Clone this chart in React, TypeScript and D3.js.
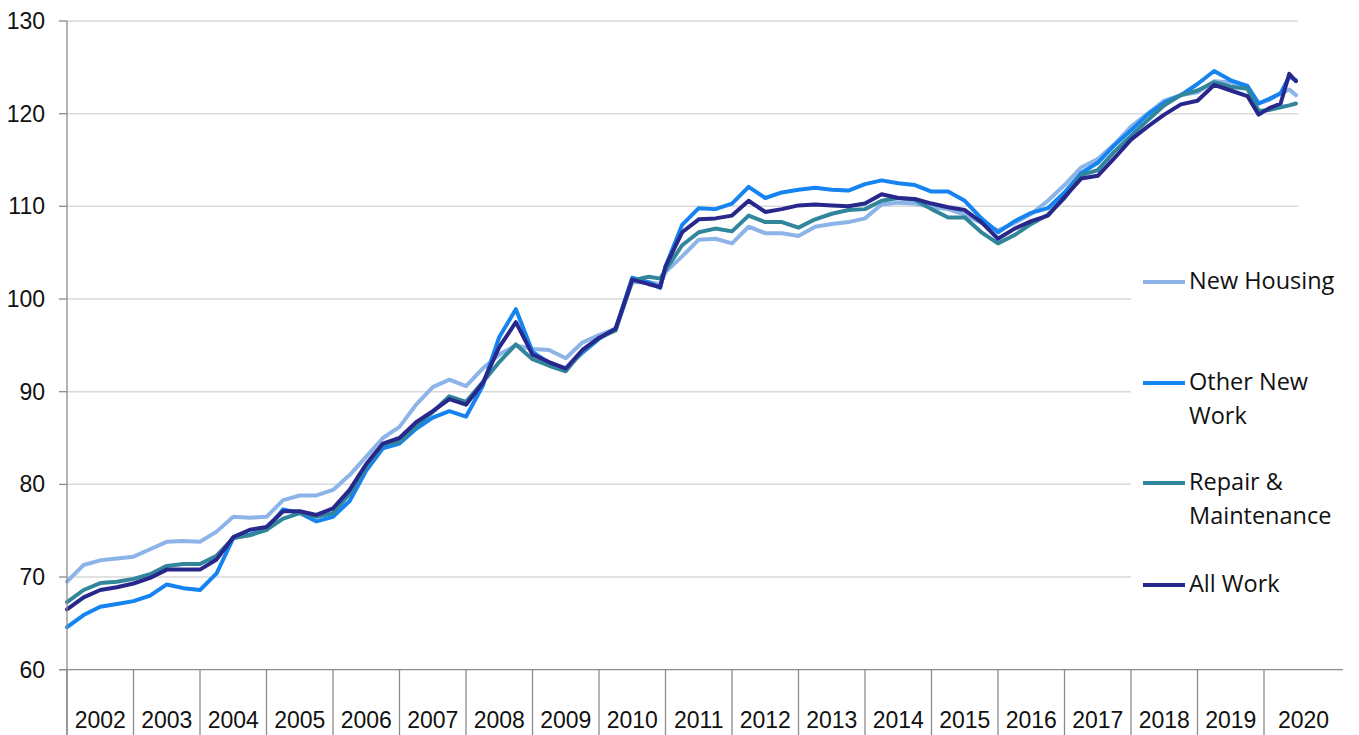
import React from "react";
import * as d3 from "d3";

// ---- data ----
const times = [
  2002.0, 2002.25, 2002.5, 2002.75,
  2003.0, 2003.25, 2003.5, 2003.75,
  2004.0, 2004.25, 2004.5, 2004.75,
  2005.0, 2005.25, 2005.5, 2005.75,
  2006.0, 2006.25, 2006.5, 2006.75,
  2007.0, 2007.25, 2007.5, 2007.75,
  2008.0, 2008.25, 2008.5, 2008.75,
  2009.0, 2009.25, 2009.5, 2009.75,
  2010.0, 2010.25, 2010.5, 2010.75, 2010.92,
  2011.0, 2011.25, 2011.5, 2011.75,
  2012.0, 2012.25, 2012.5, 2012.75,
  2013.0, 2013.25, 2013.5, 2013.75,
  2014.0, 2014.25, 2014.5, 2014.75,
  2015.0, 2015.25, 2015.5, 2015.75,
  2016.0, 2016.25, 2016.5, 2016.75,
  2017.0, 2017.25, 2017.5, 2017.75,
  2018.0, 2018.25, 2018.5, 2018.75,
  2019.0, 2019.25, 2019.5, 2019.75,
  2019.92, 2020.08, 2020.25, 2020.38, 2020.48,
];

const newHousing = [
  69.5, 71.3, 71.8, 72.0,
  72.2, 73.0, 73.8, 73.9,
  73.8, 74.9, 76.5, 76.4,
  76.5, 78.3, 78.8, 78.8,
  79.4, 81.0, 83.0, 85.0,
  86.2, 88.6, 90.5, 91.3,
  90.6, 92.5, 94.0, 95.0,
  94.6, 94.5, 93.6, 95.3,
  96.1, 96.8, 101.8, 101.8, 101.6,
  102.9, 104.6, 106.4, 106.5,
  106.0, 107.8, 107.1, 107.1,
  106.8, 107.8, 108.1, 108.3,
  108.7, 110.2, 110.4, 110.3,
  109.9, 109.7, 109.1, 108.2,
  107.4, 108.2, 109.2, 110.6,
  112.3, 114.2, 115.1, 116.7,
  118.6, 120.0, 121.4, 122.0,
  122.3, 123.5, 123.4, 122.8,
  121.1, 121.5, 122.2, 122.6, 122.0,
];

const otherNewWork = [
  64.6, 65.9, 66.8, 67.1,
  67.4, 68.0, 69.2, 68.8,
  68.6, 70.4, 74.2, 74.6,
  75.1, 77.3, 76.9, 76.0,
  76.5, 78.2, 81.5, 83.9,
  84.4, 86.0, 87.2, 87.9,
  87.3, 90.6, 95.9, 98.9,
  94.3, 93.1, 92.5, 94.2,
  95.7, 96.8, 102.3, 101.8, 101.2,
  103.5, 108.0, 109.8, 109.7,
  110.3, 112.1, 110.9, 111.5,
  111.8, 112.0, 111.8, 111.7,
  112.4, 112.8, 112.5, 112.3,
  111.6, 111.6, 110.6, 108.7,
  107.2, 108.4, 109.3, 109.8,
  111.5, 113.6, 114.7, 116.6,
  118.2, 119.9, 121.2, 122.0,
  123.2, 124.6, 123.6, 123.0,
  121.1, 121.6, 122.2, 124.0, 123.6,
];

const repairMaintenance = [
  67.3, 68.6, 69.35, 69.5,
  69.8, 70.3, 71.2, 71.4,
  71.4, 72.3, 74.2, 74.5,
  75.1, 76.3, 76.9, 76.5,
  76.9, 79.0, 81.9, 84.3,
  84.6, 86.3, 87.8, 89.5,
  88.9, 91.0, 93.2, 95.1,
  93.5, 92.8, 92.2, 94.4,
  95.8, 96.6, 102.0, 102.4, 102.2,
  103.1, 105.8, 107.2, 107.6,
  107.3, 109.0, 108.3, 108.3,
  107.7, 108.6, 109.2, 109.6,
  109.7, 110.6, 110.9, 110.7,
  109.7, 108.8, 108.8, 107.2,
  106.0, 106.9, 108.1, 109.1,
  110.9, 113.4, 113.9, 115.9,
  117.6, 119.3, 120.9, 122.0,
  122.5, 123.4, 122.9, 122.7,
  120.3, 120.4, 120.7, 120.9, 121.1,
];

const allWork = [
  66.5, 67.8, 68.6, 68.9,
  69.3, 69.9, 70.8, 70.8,
  70.8, 71.9, 74.3, 75.1,
  75.4, 77.1, 77.1, 76.7,
  77.4, 79.4, 82.2, 84.4,
  85.0, 86.7, 87.9, 89.2,
  88.6, 90.9, 94.8, 97.5,
  94.0, 93.2, 92.5, 94.5,
  95.8, 96.8, 102.1, 101.6, 101.3,
  103.5, 107.2, 108.6, 108.7,
  109.0, 110.6, 109.4, 109.7,
  110.1, 110.2, 110.1, 110.0,
  110.3, 111.3, 110.9, 110.8,
  110.3, 109.9, 109.6, 108.3,
  106.5, 107.6, 108.4, 109.0,
  111.0, 113.0, 113.3, 115.2,
  117.2, 118.6, 119.9, 121.0,
  121.4, 123.1, 122.5, 121.9,
  119.9, 120.6, 121.1, 124.3, 123.5,
];

const years = [2002, 2003, 2004, 2005, 2006, 2007, 2008, 2009, 2010, 2011, 2012, 2013, 2014, 2015, 2016, 2017, 2018, 2019, 2020];
const yTicks = [60, 70, 80, 90, 100, 110, 120, 130];

const seriesNames = ["New Housing", "Other New Work", "Repair & Maintenance", "All Work"];
const seriesValues = [newHousing, otherNewWork, repairMaintenance, allWork];
const seriesColors = ["#8db4e8", "#1584f0", "#31869c", "#28288c"];
const legendLines = [["New Housing"], ["Other New", "Work"], ["Repair &", "Maintenance"], ["All Work"]];

// ---- layout ----
const W = 1359;
const H = 735;
const left = 67;
const gridRight = 1298;
const axisRight = 1343;
const top = 21;
const bottom = 669.7;

export default function App() {
  const x = d3.scaleLinear().domain([2002, 2020]).range([left, left + 18 * 66.5]);
  const y = d3.scaleLinear().domain([60, 130]).range([bottom, top]);

  const line = d3
    .line<number>()
    .x((_, i) => x(times[i]))
    .y((d) => y(d));

  const axisFont = "'Liberation Sans', Arial, sans-serif";
  const legendFont = "'Open Sans', 'Liberation Sans', sans-serif";

  const legendX = 1143;
  const legendY = [282, 383, 483, 585];

  return (
    <svg
      width={W}
      height={H}
      viewBox={`0 0 ${W} ${H}`}
      style={{ position: "absolute", left: 0, top: 0, display: "block", background: "#fff" }}
    >
      <rect x={0} y={0} width={W} height={H} fill="#fff" />
      {/* gridlines */}
      {yTicks
        .filter((t) => t !== 60)
        .map((t) => (
          <line key={`g${t}`} x1={left} x2={gridRight} y1={y(t)} y2={y(t)} stroke="#d9d9d9" strokeWidth={1.5} />
        ))}
      {/* series */}
      {seriesValues.map((vals, i) => (
        <path
          key={seriesNames[i]}
          d={line(vals) || ""}
          fill="none"
          stroke={seriesColors[i]}
          strokeWidth={4}
          strokeLinejoin="round"
          strokeLinecap="round"
        />
      ))}
      {/* y axis */}
      <line x1={left} x2={left} y1={top} y2={H} stroke="#8c8c8c" strokeWidth={1.3} />
      {yTicks.map((t) => (
        <g key={`yt${t}`}>
          <line x1={left - 8} x2={left} y1={y(t)} y2={y(t)} stroke="#8c8c8c" strokeWidth={1.3} />
          <text x={45} y={y(t) + 8} textAnchor="end" fontFamily={axisFont} fontSize={23} fill="#111">
            {t}
          </text>
        </g>
      ))}
      {/* x axis */}
      <line x1={left - 8} x2={axisRight} y1={bottom} y2={bottom} stroke="#8c8c8c" strokeWidth={1.3} />
      {years.map((yr) => (
        <line key={`sep${yr}`} x1={x(yr)} x2={x(yr)} y1={bottom} y2={H} stroke="#8c8c8c" strokeWidth={1.3} />
      ))}
      {years.map((yr) => {
        const cx = yr === 2020 ? (x(2020) + axisRight) / 2 : x(yr + 0.5);
        return (
          <text key={`yl${yr}`} x={cx} y={728} textAnchor="middle" fontFamily={axisFont} fontSize={23} fill="#111">
            {yr}
          </text>
        );
      })}
      {/* legend */}
      <rect x={1131} y={240} width={228} height={375} fill="#fff" />
      {seriesNames.map((name, i) => (
        <g key={`lg${name}`}>
          <line x1={legendX} x2={legendX + 42} y1={legendY[i]} y2={legendY[i]} stroke={seriesColors[i]} strokeWidth={4} />
          {legendLines[i].map((txt, j) => (
            <text
              key={txt}
              x={1189}
              y={legendY[i] + 7 + j * 34}
              fontFamily={legendFont}
              fontSize={23.5}
              fill="#111"
            >
              {txt}
            </text>
          ))}
        </g>
      ))}
    </svg>
  );
}
